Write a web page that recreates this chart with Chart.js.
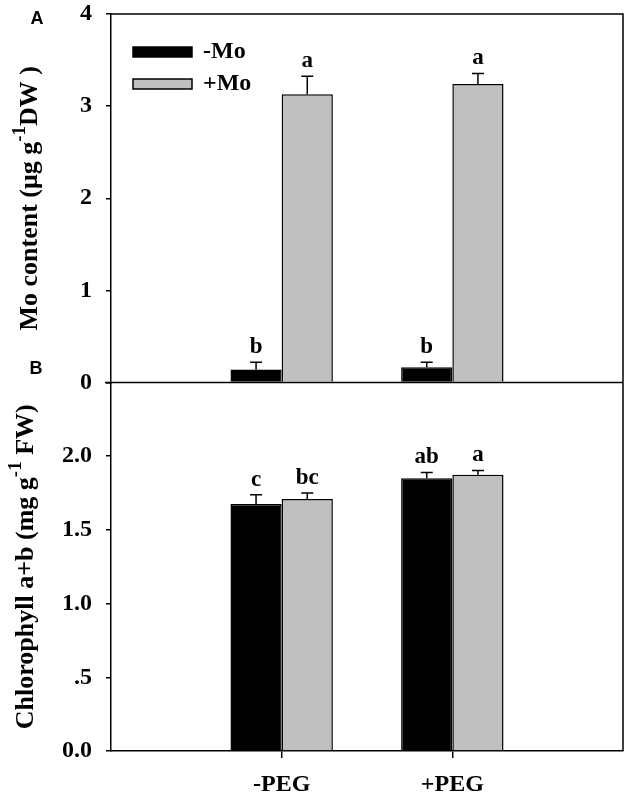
<!DOCTYPE html>
<html>
<head>
<meta charset="utf-8">
<script src="https://cdn.jsdelivr.net/npm/chart.js@4.4.0/dist/chart.umd.min.js"></script>
<style>
  html, body { margin: 0; padding: 0; background: #fff; }
  #wrap { position: relative; width: 631px; height: 798px; }
</style>
</head>
<body>
<div id="wrap"><canvas id="myChart" width="631" height="798"></canvas></div>
<script>
// categories (empty slots at both ends give the wide margins of the original)
const groups = ['', '-PEG', '+PEG', ''];
const seriesNames = ['-Mo', '+Mo'];

// panel A: Mo content (ug g-1 DW)
const moMinus = [null, 0.14, 0.165, null];
const moPlus = [null, 3.13, 3.24, null];
const moMinusErr = [null, 0.08, 0.055, null];
const moPlusErr = [null, 0.195, 0.115, null];
const moMinusLetters = ['', 'b', 'b', ''];
const moPlusLetters = ['', 'a', 'a', ''];

// panel B: Chlorophyll a+b (mg g-1 FW)
const chlMinus = [null, 1.675, 1.85, null];
const chlPlus = [null, 1.71, 1.875, null];
const chlMinusErr = [null, 0.063, 0.04, null];
const chlPlusErr = [null, 0.04, 0.028, null];
const chlMinusLetters = ['', 'c', 'ab', ''];
const chlPlusLetters = ['', 'bc', 'a', ''];

// tick labels
const moTicks = ['0', '1', '2', '3', '4'];
const chlTicks = ['0.0', '.5', '1.0', '1.5', '2.0'];

const serif = '"Liberation Serif", "Times New Roman", serif';
const tickFont = { family: serif, size: 24, weight: 'bold' };

// draws rotated text with a raised "-1"
function drawRotated(ctx, segs, cx, cy)
{
  ctx.save();
  ctx.translate(cx, cy);
  ctx.rotate(-Math.PI / 2);
  ctx.textBaseline = 'middle';
  ctx.textAlign = 'left';
  let total = 0;
  segs.forEach(s => {
    ctx.font = 'bold ' + (s.sup ? 19 : 26) + 'px ' + serif;
    s.w = ctx.measureText(s.t).width;
    total += s.w;
  });
  let x = -total / 2;
  segs.forEach(s => {
    ctx.font = 'bold ' + (s.sup ? 19 : 26) + 'px ' + serif;
    ctx.fillText(s.t, x, s.sup ? -10 : 0);
    x += s.w;
  });
  ctx.restore();
}

// drop the automatic label padding so the plot box sits where the original does
function noPad(s)
{
  s.paddingTop = 0;
  s.paddingBottom = 0;
  s.paddingLeft = 0;
  s.paddingRight = 0;
}

const decor = {
  id: 'decor',
  afterDatasetsDraw(chart) {
    const ctx = chart.ctx;
    const area = chart.chartArea;
    const yA = chart.scales.yA;
    const yB = chart.scales.yB;

    ctx.save();
    ctx.strokeStyle = '#000';
    ctx.fillStyle = '#000';
    ctx.lineWidth = 1.5;

    // frame: top, right and the line between the panels
    ctx.beginPath();
    ctx.moveTo(area.left, area.top);
    ctx.lineTo(area.right, area.top);
    ctx.lineTo(area.right, area.bottom);
    ctx.moveTo(area.left - 6, yA.bottom);
    ctx.lineTo(area.right, yA.bottom);
    ctx.stroke();

    // error bars and letters
    ctx.font = 'bold 23px ' + serif;
    ctx.textAlign = 'center';
    ctx.textBaseline = 'middle';
    chart.data.datasets.forEach((ds, i) => {
      const meta = chart.getDatasetMeta(i);
      const ys = chart.scales[ds.yAxisID];
      meta.data.forEach((bar, j) => {
        const v = ds.data[j];
        if (v == null) return;
        const top = ys.getPixelForValue(v + ds.err[j]);
        ctx.beginPath();
        ctx.moveTo(bar.x, bar.y);
        ctx.lineTo(bar.x, top);
        ctx.moveTo(bar.x - 6, top);
        ctx.lineTo(bar.x + 6, top);
        ctx.stroke();
        ctx.fillText(ds.letters[j], bar.x, top - 15);
      });
    });

    // legend
    const lx = area.left + 22;
    const colors = [chart.data.datasets[0].backgroundColor, chart.data.datasets[1].backgroundColor];
    [area.top + 38, area.top + 70].forEach((cy, k) => {
      ctx.fillStyle = colors[k];
      ctx.fillRect(lx, cy - 5, 59, 10);
      ctx.strokeRect(lx, cy - 5, 59, 10);
      ctx.fillStyle = '#000';
      ctx.font = 'bold 24px ' + serif;
      ctx.textAlign = 'left';
      ctx.fillText(seriesNames[k], lx + 70, cy);
    });

    // panel letters
    ctx.font = 'bold 18px "Liberation Sans", Arial, sans-serif';
    ctx.textAlign = 'center';
    ctx.fillText('A', 37, 19);
    ctx.fillText('B', 36, yB.top - 13);

    // axis titles
    drawRotated(ctx, [{t: 'Mo content (\u03bcg g'}, {t: '-1', sup: true}, {t: 'DW )'}],
      30, (yA.top + yA.bottom) / 2);
    drawRotated(ctx, [{t: 'Chlorophyll a+b (mg g'}, {t: '-1', sup: true}, {t: ' FW)'}],
      26, (yB.top + yB.bottom) / 2);
    ctx.restore();
  }
};

const data = {
  labels: groups,
  datasets: [
    { label: seriesNames[0], data: moMinus, err: moMinusErr, letters: moMinusLetters,
      yAxisID: 'yA', stack: 'minus', backgroundColor: '#000000', borderColor: '#000000', borderWidth: 1.5 },
    { label: seriesNames[1], data: moPlus, err: moPlusErr, letters: moPlusLetters,
      yAxisID: 'yA', stack: 'plus', backgroundColor: '#c0c0c0', borderColor: '#000000', borderWidth: 1.5 },
    { label: seriesNames[0], data: chlMinus, err: chlMinusErr, letters: chlMinusLetters,
      yAxisID: 'yB', stack: 'minus', backgroundColor: '#000000', borderColor: '#000000', borderWidth: 1.5 },
    { label: seriesNames[1], data: chlPlus, err: chlPlusErr, letters: chlPlusLetters,
      yAxisID: 'yB', stack: 'plus', backgroundColor: '#c0c0c0', borderColor: '#000000', borderWidth: 1.5 }
  ]
};

const config = {
  type: 'bar',
  data: data,
  plugins: [decor],
  options: {
    responsive: false,
    animation: false,
    devicePixelRatio: 1,
    categoryPercentage: 0.6,
    barPercentage: 1.0,
    layout: { autoPadding: false, padding: { top: 14, right: 8, bottom: 0, left: 0 } },
    plugins: { legend: { display: false }, tooltip: { enabled: false } },
    scales: {
      x: {
        type: 'category',
        offset: false,
        grid: {
          offset: false,
          drawOnChartArea: false,
          tickLength: 7,
          lineWidth: 1.5,
          color: (c) => (c.tick && c.tick.label) ? '#000' : 'rgba(0,0,0,0)'
        },
        border: { display: true, color: '#000', width: 1.5 },
        ticks: { font: tickFont, color: '#000', padding: 12, autoSkip: false, maxRotation: 0 },
        afterFit: (s) => { s.height = 47; noPad(s); }
      },
      yB: {
        type: 'linear',
        position: 'left',
        stack: 'panels',
        stackWeight: 1,
        min: 0,
        max: 2.5,
        grid: { drawOnChartArea: false, tickLength: 5, lineWidth: 1.5, color: '#000' },
        border: { display: true, color: '#000', width: 1.5 },
        ticks: {
          stepSize: 0.5, font: tickFont, color: '#000', padding: 14,
          callback: (v) => chlTicks[Math.round(v / 0.5)] || ''
        },
        afterFit: (s) => { s.width = 111; noPad(s); }
      },
      yA: {
        type: 'linear',
        position: 'left',
        stack: 'panels',
        stackWeight: 1,
        min: 0,
        max: 4,
        grid: { drawOnChartArea: false, tickLength: 5, lineWidth: 1.5, color: '#000' },
        border: { display: true, color: '#000', width: 1.5 },
        ticks: {
          stepSize: 1, font: tickFont, color: '#000', padding: 14,
          callback: (v) => moTicks[v]
        },
        afterFit: (s) => { s.width = 111; noPad(s); }
      }
    }
  }
};

const myChart = new Chart(document.getElementById('myChart'), config);
</script>
</body>
</html>
